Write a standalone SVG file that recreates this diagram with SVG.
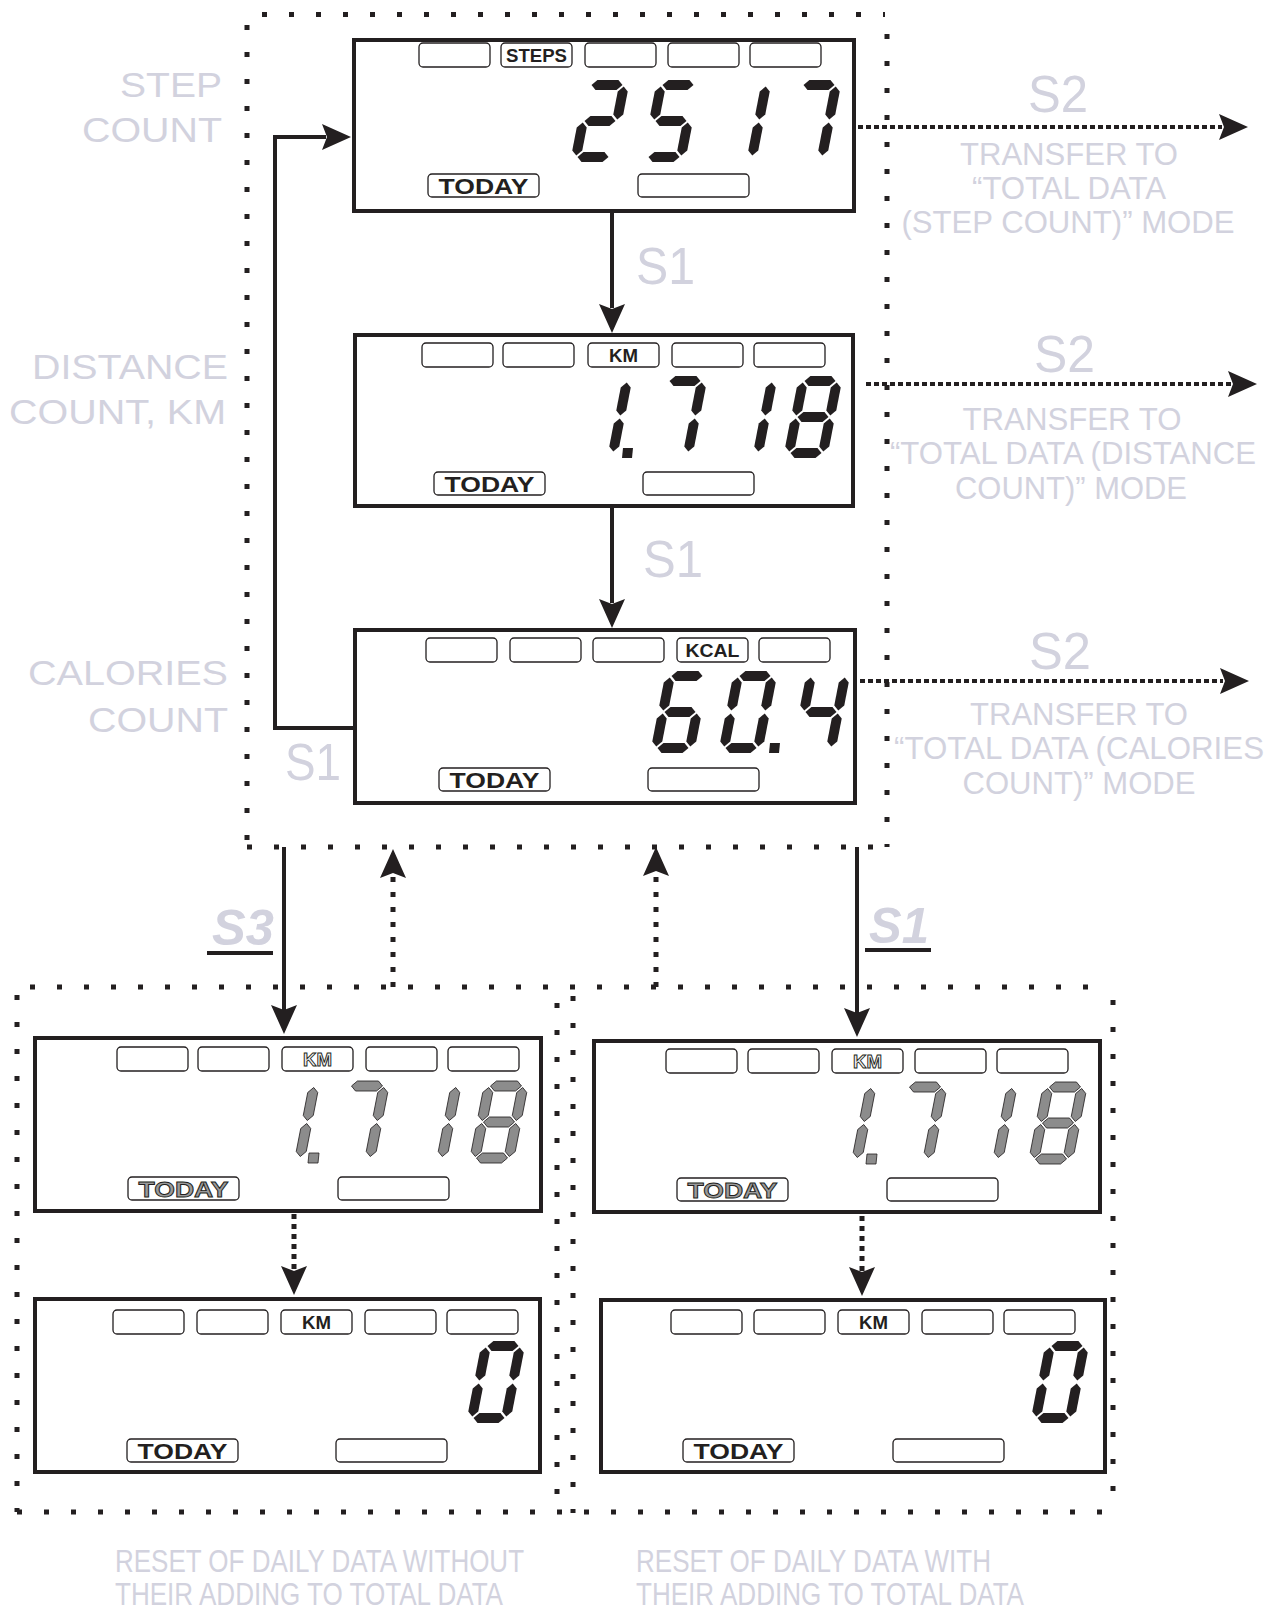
<svg xmlns="http://www.w3.org/2000/svg" xmlns:xlink="http://www.w3.org/1999/xlink" width="1275" height="1609" viewBox="0 0 1275 1609">
<style>
.frame{fill:#fff;stroke:#231f20;stroke-width:4}
.bx{fill:none;stroke:#231f20;stroke-width:1.3}
.lt{font-family:"Liberation Sans",Arial,sans-serif;font-weight:bold;fill:#231f20;text-anchor:middle}
.lto{font-family:"Liberation Sans",Arial,sans-serif;font-weight:bold;text-anchor:middle;stroke:#231f20;stroke-width:0.9}
.dig{fill:#231f20}
.digg{fill:#8c8c8c;stroke:#231f20;stroke-width:0.8}
.pale{font-family:"Liberation Sans",Arial,sans-serif;fill:#d2d2de}
.conn{fill:none;stroke:#231f20;stroke-width:4}
.dots{fill:none;stroke:#231f20;stroke-width:4;stroke-dasharray:5 3}
.dotv{fill:none;stroke:#231f20;stroke-width:5;stroke-dasharray:5 10}
.frm{fill:none;stroke:#231f20;stroke-width:5;stroke-dasharray:5 22}
.ah{fill:#231f20}
</style>
<defs>
<path id="sa" d="M1.5,-72 L6.5,-77 L27.5,-77 L32.5,-72 L27.5,-67 L6.5,-67 Z"/>
<path id="sb" d="M34,-70.5 L39,-65.5 L39,-42.5 L34,-37.5 L29,-42.5 L29,-65.5 Z"/>
<path id="sc" d="M34,-34.5 L39,-29.5 L39,-6.5 L34,-1.5 L29,-6.5 L29,-29.5 Z"/>
<path id="sd" d="M1.5,0 L6.5,-5 L27.5,-5 L32.5,0 L27.5,5 L6.5,5 Z"/>
<path id="se" d="M0,-34.5 L5,-29.5 L5,-6.5 L0,-1.5 L-5,-6.5 L-5,-29.5 Z"/>
<path id="sf" d="M0,-70.5 L5,-65.5 L5,-42.5 L0,-37.5 L-5,-42.5 L-5,-65.5 Z"/>
<path id="sg" d="M1.5,-36 L6.5,-41 L27.5,-41 L32.5,-36 L27.5,-31 L6.5,-31 Z"/>
<g id="d0" transform="skewX(-11)"><use href="#sa"/><use href="#sb"/><use href="#sc"/><use href="#sd"/><use href="#se"/><use href="#sf"/></g>
<g id="d1" transform="skewX(-11)"><use href="#sb"/><use href="#sc"/></g>
<g id="d2" transform="skewX(-11)"><use href="#sa"/><use href="#sb"/><use href="#sg"/><use href="#se"/><use href="#sd"/></g>
<g id="d4" transform="skewX(-11)"><use href="#sf"/><use href="#sg"/><use href="#sb"/><use href="#sc"/></g>
<g id="d5" transform="skewX(-11)"><use href="#sa"/><use href="#sf"/><use href="#sg"/><use href="#sc"/><use href="#sd"/></g>
<g id="d6" transform="skewX(-11)"><use href="#sa"/><use href="#sf"/><use href="#sg"/><use href="#se"/><use href="#sd"/><use href="#sc"/></g>
<g id="d7" transform="skewX(-11)"><use href="#sa"/><use href="#sb"/><use href="#sc"/></g>
<g id="d8" transform="skewX(-11)"><use href="#sa"/><use href="#sb"/><use href="#sc"/><use href="#sd"/><use href="#se"/><use href="#sf"/><use href="#sg"/></g>
<path id="dp" d="M44,-5 L54,-5 L53,5 L43,5 Z"/>
<path id="ah" d="M0,0 L-29,-13 L-24,0 L-29,13 Z"/>
</defs>
<rect width="1275" height="1609" fill="#fff"/>

<!-- dotted frames -->
<g id="frames">
<line class="frm" x1="262" y1="14.5" x2="885" y2="14.5"/>
<line class="frm" x1="247" y1="25" x2="247" y2="847"/>
<line class="frm" x1="887" y1="34" x2="887" y2="847"/>
<line class="frm" x1="247" y1="847" x2="887" y2="847"/>
<line class="frm" x1="30" y1="987" x2="1105" y2="987"/>
<line class="frm" x1="17" y1="995" x2="17" y2="1512"/>
<line class="frm" x1="557" y1="1003" x2="557" y2="1512"/>
<line class="frm" x1="573" y1="996" x2="573" y2="1513"/>
<line class="frm" x1="1113" y1="1000" x2="1113" y2="1513"/>
<line class="frm" x1="17" y1="1512" x2="1113" y2="1512"/>
</g>

<!-- LCD 1 -->
<g id="lcd1" transform="translate(352,38)">
<rect class="frame" x="2" y="2" width="500" height="171"/>
<rect class="bx" x="67" y="5" width="71" height="24" rx="4"/>
<rect class="bx" x="149" y="5" width="71" height="24" rx="4"/>
<rect class="bx" x="233" y="5" width="71" height="24" rx="4"/>
<rect class="bx" x="316" y="5" width="71" height="24" rx="4"/>
<rect class="bx" x="398" y="5" width="71" height="24" rx="4"/>
<text class="lt" x="184.5" y="24" font-size="18" textLength="61" lengthAdjust="spacingAndGlyphs">STEPS</text>
<rect class="bx" x="76" y="136" width="111" height="23" rx="4"/>
<text class="lt" x="131.5" y="155.5" font-size="22" textLength="90" lengthAdjust="spacingAndGlyphs">TODAY</text>
<rect class="bx" x="286" y="136" width="111" height="23" rx="4"/>
<g class="dig">
<use href="#d2" x="224" y="119"/><use href="#d5" x="295" y="119"/><use href="#d1" x="366" y="119"/><use href="#d7" x="436" y="119"/>
</g>
</g>

<!-- LCD 2 -->
<g id="lcd2" transform="translate(353,333)">
<rect class="frame" x="2" y="2" width="498" height="171"/>
<rect class="bx" x="69" y="10" width="71" height="24" rx="4"/>
<rect class="bx" x="150" y="10" width="71" height="24" rx="4"/>
<rect class="bx" x="235" y="10" width="71" height="24" rx="4"/>
<rect class="bx" x="319" y="10" width="71" height="24" rx="4"/>
<rect class="bx" x="401" y="10" width="71" height="24" rx="4"/>
<text class="lt" x="270.5" y="29" font-size="18" textLength="29" lengthAdjust="spacingAndGlyphs">KM</text>
<rect class="bx" x="81" y="139" width="111" height="23" rx="4"/>
<text class="lt" x="136.5" y="158.5" font-size="22" textLength="90" lengthAdjust="spacingAndGlyphs">TODAY</text>
<rect class="bx" x="290" y="139" width="111" height="23" rx="4"/>
<g class="dig">
<use href="#d1" x="226" y="120"/><use href="#dp" x="226" y="120"/><use href="#d7" x="301" y="120"/><use href="#d1" x="371" y="120"/><use href="#d8" x="436" y="120"/>
</g>
</g>

<!-- LCD 3 -->
<g id="lcd3" transform="translate(353,628)">
<rect class="frame" x="2" y="2" width="500" height="173"/>
<rect class="bx" x="73" y="10" width="71" height="24" rx="4"/>
<rect class="bx" x="157" y="10" width="71" height="24" rx="4"/>
<rect class="bx" x="240" y="10" width="71" height="24" rx="4"/>
<rect class="bx" x="324" y="10" width="71" height="24" rx="4"/>
<rect class="bx" x="406" y="10" width="71" height="24" rx="4"/>
<text class="lt" x="359.5" y="29" font-size="18" textLength="54" lengthAdjust="spacingAndGlyphs">KCAL</text>
<rect class="bx" x="86" y="140" width="111" height="23" rx="4"/>
<text class="lt" x="141.5" y="159.5" font-size="22" textLength="90" lengthAdjust="spacingAndGlyphs">TODAY</text>
<rect class="bx" x="295" y="140" width="111" height="23" rx="4"/>
<g class="dig">
<use href="#d6" x="303" y="120"/><use href="#d0" x="371" y="120"/><use href="#dp" x="373" y="120"/><use href="#d4" x="444" y="120"/>
</g>
</g>

<!-- LCD 4 -->
<g id="lcd4" transform="translate(33,1036)">
<rect class="frame" x="2" y="2" width="506" height="173"/>
<rect class="bx" x="84" y="11" width="71" height="24" rx="4"/>
<rect class="bx" x="165" y="11" width="71" height="24" rx="4"/>
<rect class="bx" x="249" y="11" width="71" height="24" rx="4"/>
<rect class="bx" x="333" y="11" width="71" height="24" rx="4"/>
<rect class="bx" x="415" y="11" width="71" height="24" rx="4"/>
<text class="lto" x="284.5" y="30" font-size="18" fill="#f2f2f2" textLength="29" lengthAdjust="spacingAndGlyphs">KM</text>
<rect class="bx" x="95" y="141" width="111" height="23" rx="4"/>
<text class="lto" x="150.5" y="160.5" font-size="22" fill="#9a9a9a" textLength="90" lengthAdjust="spacingAndGlyphs">TODAY</text>
<rect class="bx" x="305" y="141" width="111" height="23" rx="4"/>
<g class="digg">
<use href="#d1" x="233" y="122"/><use href="#dp" x="232" y="122"/><use href="#d7" x="303" y="122"/><use href="#d1" x="375" y="122"/><use href="#d8" x="442" y="122"/>
</g>
</g>

<!-- LCD 5 -->
<g id="lcd5" transform="translate(592,1039)">
<rect class="frame" x="2" y="2" width="506" height="171"/>
<rect class="bx" x="74" y="10" width="71" height="24" rx="4"/>
<rect class="bx" x="156" y="10" width="71" height="24" rx="4"/>
<rect class="bx" x="240" y="10" width="71" height="24" rx="4"/>
<rect class="bx" x="323" y="10" width="71" height="24" rx="4"/>
<rect class="bx" x="405" y="10" width="71" height="24" rx="4"/>
<text class="lto" x="275.5" y="29" font-size="18" fill="#f2f2f2" textLength="29" lengthAdjust="spacingAndGlyphs">KM</text>
<rect class="bx" x="85" y="139" width="111" height="23" rx="4"/>
<text class="lto" x="140.5" y="158.5" font-size="22" fill="#9a9a9a" textLength="90" lengthAdjust="spacingAndGlyphs">TODAY</text>
<rect class="bx" x="295" y="139" width="111" height="23" rx="4"/>
<g class="digg">
<use href="#d1" x="231" y="120"/><use href="#dp" x="231" y="120"/><use href="#d7" x="302" y="120"/><use href="#d1" x="372" y="120"/><use href="#d8" x="442" y="120"/>
</g>
</g>

<!-- LCD 6 -->
<g id="lcd6" transform="translate(33,1297)">
<rect class="frame" x="2" y="2" width="505" height="173"/>
<rect class="bx" x="80" y="13" width="71" height="24" rx="4"/>
<rect class="bx" x="164" y="13" width="71" height="24" rx="4"/>
<rect class="bx" x="248" y="13" width="71" height="24" rx="4"/>
<rect class="bx" x="332" y="13" width="71" height="24" rx="4"/>
<rect class="bx" x="414" y="13" width="71" height="24" rx="4"/>
<text class="lt" x="283.5" y="32" font-size="18" textLength="29" lengthAdjust="spacingAndGlyphs">KM</text>
<rect class="bx" x="94" y="142" width="111" height="23" rx="4"/>
<text class="lt" x="149.5" y="161.5" font-size="22" textLength="90" lengthAdjust="spacingAndGlyphs">TODAY</text>
<rect class="bx" x="303" y="142" width="111" height="23" rx="4"/>
<g class="dig"><use href="#d0" x="439" y="121"/></g>
</g>

<!-- LCD 7 -->
<g id="lcd7" transform="translate(599,1298)">
<rect class="frame" x="2" y="2" width="504" height="172"/>
<rect class="bx" x="72" y="12" width="71" height="24" rx="4"/>
<rect class="bx" x="155" y="12" width="71" height="24" rx="4"/>
<rect class="bx" x="239" y="12" width="71" height="24" rx="4"/>
<rect class="bx" x="323" y="12" width="71" height="24" rx="4"/>
<rect class="bx" x="405" y="12" width="71" height="24" rx="4"/>
<text class="lt" x="274.5" y="31" font-size="18" textLength="29" lengthAdjust="spacingAndGlyphs">KM</text>
<rect class="bx" x="84" y="141" width="111" height="23" rx="4"/>
<text class="lt" x="139.5" y="160.5" font-size="22" textLength="90" lengthAdjust="spacingAndGlyphs">TODAY</text>
<rect class="bx" x="294" y="141" width="111" height="23" rx="4"/>
<g class="dig"><use href="#d0" x="437" y="120"/></g>
</g>

<!-- connectors -->
<g id="connectors">
<line class="conn" x1="612" y1="213" x2="612" y2="308"/>
<use class="ah" href="#ah" transform="translate(612,333) rotate(90)"/>
<line class="conn" x1="612" y1="508" x2="612" y2="603"/>
<use class="ah" href="#ah" transform="translate(612,628) rotate(90)"/>
<polyline class="conn" points="353,728 275,728 275,137 326,137"/>
<use class="ah" href="#ah" transform="translate(351,137)"/>
<line class="conn" x1="284" y1="847" x2="284" y2="1010"/>
<use class="ah" href="#ah" transform="translate(284,1034) rotate(90)"/>
<line class="conn" x1="857" y1="847" x2="857" y2="1013"/>
<use class="ah" href="#ah" transform="translate(857,1037) rotate(90)"/>
<line class="dots" x1="858" y1="127" x2="1222" y2="127"/>
<use class="ah" href="#ah" transform="translate(1248,127)"/>
<line class="dots" x1="866" y1="384" x2="1231" y2="384"/>
<use class="ah" href="#ah" transform="translate(1257,384)"/>
<line class="dots" x1="860" y1="681" x2="1223" y2="681"/>
<use class="ah" href="#ah" transform="translate(1249,681)"/>
<line class="dotv" x1="393" y1="987" x2="393" y2="876"/>
<use class="ah" href="#ah" transform="translate(393,849) rotate(-90)"/>
<line class="dotv" x1="656" y1="987" x2="656" y2="874"/>
<use class="ah" href="#ah" transform="translate(656,847) rotate(-90)"/>
<line class="dotv" style="stroke-dasharray:5 5" x1="294" y1="1214" x2="294" y2="1270"/>
<use class="ah" href="#ah" transform="translate(294,1295) rotate(90)"/>
<line class="dotv" style="stroke-dasharray:5 5" x1="862" y1="1216" x2="862" y2="1271"/>
<use class="ah" href="#ah" transform="translate(862,1296) rotate(90)"/>
<line class="conn" x1="207" y1="953" x2="273" y2="953"/>
<line class="conn" x1="865" y1="950" x2="931" y2="950"/>
</g>

<!-- labels -->
<g id="labels">
<text class="pale" x="222" y="97" font-size="35" text-anchor="end" textLength="102" lengthAdjust="spacingAndGlyphs">STEP</text>
<text class="pale" x="222" y="142" font-size="35" text-anchor="end" textLength="140" lengthAdjust="spacingAndGlyphs">COUNT</text>
<text class="pale" x="228" y="379" font-size="35" text-anchor="end" textLength="196" lengthAdjust="spacingAndGlyphs">DISTANCE</text>
<text class="pale" x="226" y="424" font-size="35" text-anchor="end" textLength="217" lengthAdjust="spacingAndGlyphs">COUNT, KM</text>
<text class="pale" x="228" y="685" font-size="35" text-anchor="end" textLength="200" lengthAdjust="spacingAndGlyphs">CALORIES</text>
<text class="pale" x="228" y="732" font-size="35" text-anchor="end" textLength="140" lengthAdjust="spacingAndGlyphs">COUNT</text>

<text class="pale" x="636" y="284" font-size="52" textLength="59" lengthAdjust="spacingAndGlyphs">S1</text>
<text class="pale" x="643" y="577" font-size="52" textLength="60" lengthAdjust="spacingAndGlyphs">S1</text>
<text class="pale" x="285" y="780" font-size="52" textLength="56" lengthAdjust="spacingAndGlyphs">S1</text>
<text class="pale" x="212" y="945" font-size="50" font-style="italic" font-weight="bold" textLength="62" lengthAdjust="spacingAndGlyphs">S3</text>
<text class="pale" x="869" y="943" font-size="50" font-style="italic" font-weight="bold" textLength="60" lengthAdjust="spacingAndGlyphs">S1</text>

<text class="pale" x="1028" y="112" font-size="52" textLength="60" lengthAdjust="spacingAndGlyphs">S2</text>
<text class="pale" x="1069" y="165" font-size="32" text-anchor="middle" textLength="218" lengthAdjust="spacingAndGlyphs">TRANSFER TO</text>
<text class="pale" x="1069" y="199" font-size="32" text-anchor="middle" textLength="194" lengthAdjust="spacingAndGlyphs">“TOTAL DATA</text>
<text class="pale" x="1068" y="233" font-size="32" text-anchor="middle" textLength="333" lengthAdjust="spacingAndGlyphs">(STEP COUNT)” MODE</text>

<text class="pale" x="1034" y="372" font-size="52" textLength="61" lengthAdjust="spacingAndGlyphs">S2</text>
<text class="pale" x="1072" y="430" font-size="32" text-anchor="middle" textLength="219" lengthAdjust="spacingAndGlyphs">TRANSFER TO</text>
<text class="pale" x="1073" y="464" font-size="32" text-anchor="middle" textLength="366" lengthAdjust="spacingAndGlyphs">“TOTAL DATA (DISTANCE</text>
<text class="pale" x="1071" y="499" font-size="32" text-anchor="middle" textLength="232" lengthAdjust="spacingAndGlyphs">COUNT)” MODE</text>

<text class="pale" x="1029" y="669" font-size="52" textLength="62" lengthAdjust="spacingAndGlyphs">S2</text>
<text class="pale" x="1079" y="725" font-size="32" text-anchor="middle" textLength="218" lengthAdjust="spacingAndGlyphs">TRANSFER TO</text>
<text class="pale" x="1079" y="759" font-size="32" text-anchor="middle" textLength="370" lengthAdjust="spacingAndGlyphs">“TOTAL DATA (CALORIES</text>
<text class="pale" x="1079" y="794" font-size="32" text-anchor="middle" textLength="233" lengthAdjust="spacingAndGlyphs">COUNT)” MODE</text>

<text class="pale" x="115" y="1572" font-size="32" textLength="409" lengthAdjust="spacingAndGlyphs">RESET OF DAILY DATA WITHOUT</text>
<text class="pale" x="115" y="1605" font-size="32" textLength="388" lengthAdjust="spacingAndGlyphs">THEIR ADDING TO TOTAL DATA</text>
<text class="pale" x="636" y="1572" font-size="32" textLength="355" lengthAdjust="spacingAndGlyphs">RESET OF DAILY DATA WITH</text>
<text class="pale" x="636" y="1605" font-size="32" textLength="388" lengthAdjust="spacingAndGlyphs">THEIR ADDING TO TOTAL DATA</text>
</g>
</svg>
